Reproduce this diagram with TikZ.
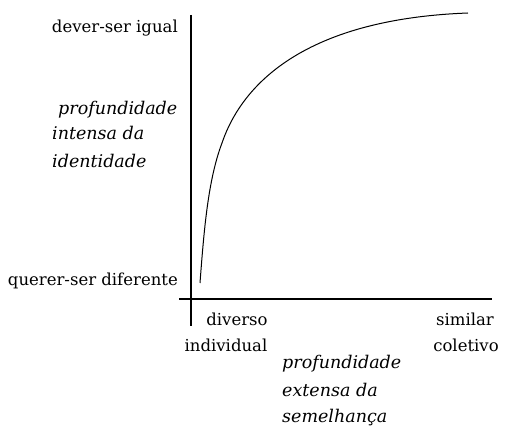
\documentclass[tikz,border=0pt]{standalone}
\usepackage{fontspec}
\setmainfont{DejaVu Serif}
\begin{document}
\begin{tikzpicture}[x=1pt,y=-1pt,
  lbl/.style={inner sep=0pt,font=\fontsize{16.5}{19}\selectfont},
  ilbl/.style={inner sep=0pt,font=\fontsize{17.5}{19}\selectfont\itshape},
  axis/.style={line width=1.3pt,black},
  curve/.style={line width=1pt,black}]
\useasboundingbox (0,0) rectangle (506,427);
% axes
\coordinate (vtop) at (191,15);
\coordinate (vbot) at (191,326);
\coordinate (hl) at (179,299);
\coordinate (hr) at (492,299);
\draw[axis] (vtop) -- (vbot);
\draw[axis] (hl) -- (hr);
% curve
\coordinate (c0) at (200,283);
\coordinate (c1) at (222,143);
\coordinate (c2) at (468,13);
\draw[curve] (c0) .. controls (204,230) and (208,180) .. (c1)
  .. controls (235,105) and (280,20) .. (c2);
% labels
\node[lbl,anchor=base east] (dever) at (178,33) {dever-ser igual};
\node[lbl,anchor=base east] (querer) at (178,286) {querer-ser diferente};
\node[ilbl,anchor=base west] (p1) at (58,115) {profundidade};
\node[ilbl,anchor=base west] (p2) at (52,140) {intensa da};
\node[ilbl,anchor=base west] (p3) at (52,168) {identidade};
\node[lbl,anchor=base] (div) at (237,326) {diverso};
\node[lbl,anchor=base] (ind) at (226,352) {individual};
\node[lbl,anchor=base] (sim) at (465,326) {similar};
\node[lbl,anchor=base] (col) at (466,352) {coletivo};
\node[ilbl,anchor=base west] (q1) at (282,369) {profundidade};
\node[ilbl,anchor=base west] (q2) at (282,397) {extensa da};
\node[ilbl,anchor=base west] (q3) at (282,423) {semelhança};
\end{tikzpicture}
\end{document}
